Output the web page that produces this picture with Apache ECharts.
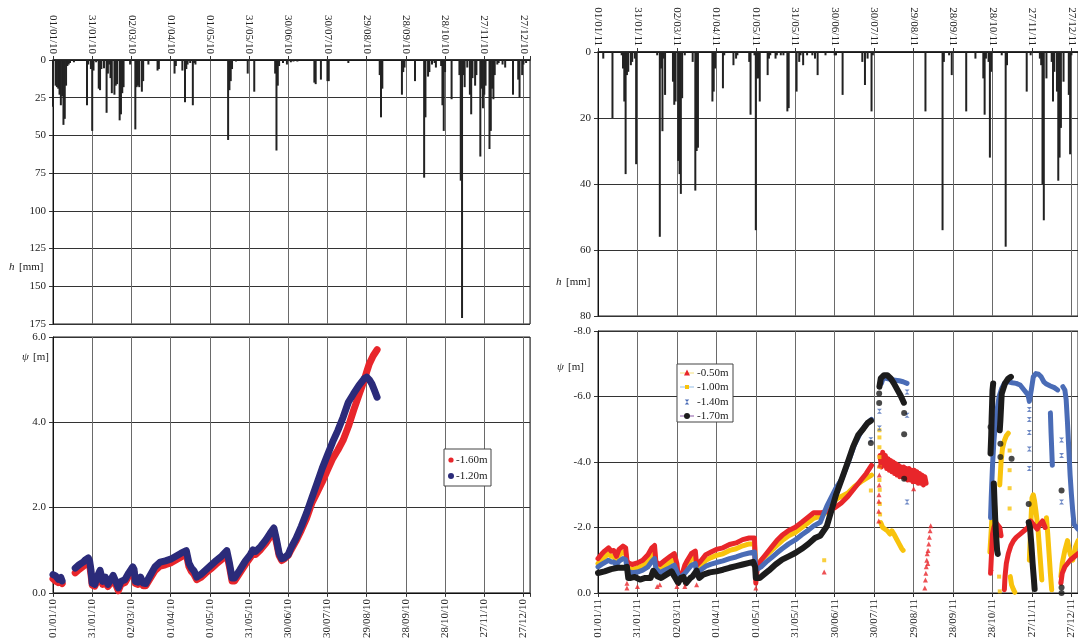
<!DOCTYPE html>
<html><head><meta charset="utf-8">
<script src="https://cdn.jsdelivr.net/npm/echarts@6/dist/echarts.min.js"></script>
<style>html,body{margin:0;padding:0;background:#fff}#c{width:1078px;height:641px}</style>
</head><body><div id="c"></div>
<script>
// ---------- tick labels ----------
const dates2010 = ['01/01/10','31/01/10','02/03/10','01/04/10','01/05/10','31/05/10','30/06/10','30/07/10','29/08/10','28/09/10','28/10/10','27/11/10','27/12/10'];
const dates2011 = ['01/01/11','31/01/11','02/03/11','01/04/11','01/05/11','31/05/11','30/06/11','30/07/11','29/08/11','28/09/11','28/10/11','27/11/11','27/12/11'];

// ---------- daily rainfall h [mm]: [day of year, mm] ----------
const rain2010 = [[0,31],[2,17],[3,18],[4,19],[5,23],[6,30],[7,24],[8,43],[9,39],[10,17],[11,4],[12,3],[13,2],[16,1.5],[26,30],[27,3],[29,6],[30,47],[31,7],[33,1.5],[35,19],[36,20],[37,6],[39,5.5],[41,35],[42,9],[43,3],[44,12],[45,22],[47,23],[48,17],[49,16],[51,40],[52,36],[53,22],[54,18],[59,3],[63,46],[64,18],[65,17],[66,18],[68,21],[69,14],[73,3],[80,7],[81,6],[93,9],[94,4],[99,7],[101,28],[102,6],[103,3],[105,2],[107,30],[108,2],[109,3],[134,53],[135,20],[136,14],[137,6],[140,1],[149,9],[154,21],[170,9],[171,60],[172,17],[173,4],[176,2],[179,3],[182,1.5],[184,1],[187,1],[200,15],[201,16],[205,13],[210,14],[211,14],[226,2],[250,10],[251,38],[252,19],[267,23],[268,8],[269,5],[277,14],[284,78],[285,38],[287,11],[288,8],[290,3],[292,2],[293,5],[297,4],[298,30],[299,47],[300,8],[305,26],[311,10],[312,80],[313,171],[314,10],[315,18],[317,5],[319,23],[320,36],[321,12],[323,17],[324,10],[327,64],[328,19],[329,32],[330,23],[331,17],[334,59],[335,47],[336,19],[337,26],[338,10],[340,3],[341,2],[344,3],[346,5],[352,23],[356,13],[357,25],[359,10],[360,3],[362,2]];
const rain2011 = [[4,2],[11,20],[18,1],[19,5],[20,15],[21,37],[22,7],[23,6],[25,4],[26,3],[28,2],[29,34],[45,1],[47,56],[48,5],[49,24],[50,2],[51,13],[57,9],[58,16],[59,15],[61,33],[62,37],[63,43],[64,14],[66,1],[72,3],[74,42],[75,30],[76,29],[87,15],[88,12],[89,5],[95,11],[96,1],[103,4],[105,2],[106,1],[115,3],[116,19],[119,1],[120,54],[121,8],[122,8],[123,15],[129,7],[130,2],[131,1],[135,2],[136,1],[139,1],[141,1],[144,18],[145,17],[151,12],[153,3],[154,1],[156,4],[159,1],[163,1],[165,2],[167,7],[173,1],[180,1],[181,1],[186,13],[201,3],[203,10],[205,2],[208,18],[209,1],[249,18],[262,54],[263,3],[267,1],[269,7],[280,18],[287,2],[293,8],[294,19],[295,2],[297,3],[298,32],[299,6],[307,1],[310,59],[311,4],[326,12],[329,1],[336,2],[337,4],[338,40],[339,51],[341,8],[345,3],[346,15],[347,6],[349,12],[350,39],[351,32],[352,23],[354,9],[358,13],[359,31],[360,1]];

// ---------- suction psi 2010 [m] (null = gap) ----------
const psi2010_160 = [[0,0.33],[2,0.28],[4,0.24],[6,0.25],[7,0.22],null,[17,0.47],[20,0.55],[23,0.62],[25,0.68],[27,0.73],[28,0.66],[29,0.45],[30,0.18],[32,0.16],[34,0.3],[36,0.45],[38,0.2],[40,0.28],[42,0.15],[44,0.22],[46,0.33],[48,0.2],[50,0.05],[52,0.2],[55,0.24],[58,0.4],[61,0.53],[62,0.48],[63,0.22],[65,0.2],[67,0.3],[69,0.17],[71,0.17],[74,0.32],[78,0.52],[82,0.63],[86,0.66],[90,0.7],[94,0.77],[98,0.84],[102,0.91],[104,0.62],[106,0.5],[108,0.43],[110,0.31],[113,0.36],[117,0.47],[121,0.57],[125,0.68],[129,0.78],[133,0.9],[135,0.62],[137,0.28],[139,0.28],[143,0.47],[147,0.66],[151,0.83],[153,0.94],[155,0.9],[159,1.02],[163,1.17],[166,1.31],[169,1.44],[171,1.18],[173,0.88],[175,0.76],[177,0.8],[180,0.88],[182,1.0],[186,1.22],[190,1.47],[194,1.75],[198,2.1],[202,2.35],[206,2.6],[210,2.88],[214,3.15],[218,3.35],[222,3.58],[226,3.9],[230,4.28],[234,4.63],[238,4.98],[240,5.18],[242,5.37],[245,5.56],[248,5.7]];
const psi2010_120 = [[0,0.43],[2,0.4],[4,0.32],[6,0.36],[7,0.28],null,[17,0.58],[20,0.66],[23,0.72],[25,0.78],[27,0.82],[28,0.75],[29,0.55],[30,0.23],[32,0.2],[34,0.39],[36,0.53],[38,0.27],[40,0.37],[42,0.2],[44,0.3],[46,0.41],[48,0.27],[50,0.12],[52,0.27],[55,0.31],[58,0.47],[61,0.61],[62,0.55],[63,0.27],[65,0.25],[67,0.37],[69,0.23],[71,0.22],[74,0.39],[78,0.61],[82,0.72],[86,0.75],[90,0.79],[94,0.86],[98,0.93],[102,0.99],[104,0.7],[106,0.58],[108,0.51],[110,0.37],[113,0.43],[117,0.54],[121,0.65],[125,0.76],[129,0.86],[133,0.99],[135,0.7],[137,0.35],[139,0.35],[143,0.54],[147,0.74],[151,0.9],[153,1.01],[155,0.97],[159,1.09],[163,1.25],[166,1.39],[169,1.52],[171,1.25],[173,0.93],[175,0.8],[177,0.82],[180,0.9],[182,1.05],[186,1.28],[190,1.56],[194,1.87],[198,2.22],[202,2.57],[206,2.92],[210,3.23],[214,3.54],[218,3.81],[222,4.12],[226,4.47],[230,4.67],[234,4.86],[238,5.02],[240,5.06],[242,5.0],[244,4.9],[246,4.75],[248,4.59]];

// ---------- suction psi 2011 [m] bands (null = gap) ----------
const psi2011_050 = [[0,-1.05],[3,-1.2],[5,-1.28],[8,-1.38],[10,-1.28],[12,-1.3],[14,-1.12],[16,-1.33],[19,-1.43],[21,-1.38],[22,-1.0],[23,-0.92],[26,-0.87],[30,-0.92],[34,-1.0],[38,-1.17],[41,-1.38],[43,-1.45],[44,-0.95],[47,-0.87],[51,-1.0],[55,-1.12],[58,-1.2],[60,-0.9],[61,-0.5],[63,-0.45],[66,-0.85],[68,-1.0],[71,-1.2],[74,-1.28],[75,-0.85],[78,-0.97],[82,-1.17],[86,-1.25],[90,-1.33],[95,-1.38],[100,-1.48],[105,-1.53],[110,-1.63],[115,-1.68],[119,-1.68],[120,-0.3],[121,-0.71],[124,-1.0],[128,-1.2],[132,-1.4],[136,-1.6],[140,-1.76],[145,-1.91],[150,-2.01],[155,-2.16],[160,-2.32],[164,-2.45],[170,-2.45],[175,-2.5],[180,-2.6],[185,-2.75],[190,-2.95],[195,-3.2],[200,-3.45],[204,-3.65],[208,-3.9],null,
 [214.5,-4.2],[215.5,-3.85],[216.5,-4.3],[217.5,-3.9],[218.5,-4.2],[219.5,-3.8],[220.5,-4.1],[221.5,-3.75],[222.5,-4.05],[223.5,-3.7],[224.5,-4.0],[225.5,-3.65],[226.5,-3.95],[227.5,-3.6],[228.5,-3.9],[229.5,-3.55],[230.5,-3.85],[231.5,-3.55],[232.5,-3.85],[233.5,-3.5],[234.5,-3.8],[235.5,-3.45],[236.5,-3.8],[237.5,-3.45],[238.5,-3.75],[239.5,-3.4],[240.5,-3.75],[241.5,-3.4],[242.5,-3.7],[243.5,-3.35],[244.5,-3.65],[245.5,-3.35],[246.5,-3.6],[247.5,-3.3],[248.5,-3.55],[249.5,-3.35],null,
 [298.5,-0.6],[299,-1.0],[299.5,-1.4],[300,-1.8],[301,-2.0],[302.5,-2.15],[304,-2.2],[305.5,-2.0],[306.5,-1.75],null,
 [309,-0.1],[309.5,-0.5],[310.5,-0.9],[312,-1.2],[314,-1.45],[316,-1.6],[318,-1.7],[321,-1.8],[324,-1.9],[327,-2.0],[329,-2.2],[330,-2.15],[332,-2.05],[334,-1.95],[336,-2.1],[338,-2.2],[340,-2.0],null,
 [352,-0.3],[353,-0.6],[355,-0.8],[357,-0.9],[359,-1.0],[362,-1.1],[365,-1.2]];
const psi2011_100 = [[0,-0.9],[3,-1.03],[5,-1.1],[8,-1.2],[10,-1.12],[12,-1.12],[14,-0.97],[16,-1.15],[19,-1.25],[21,-1.2],[22,-0.9],[23,-0.75],[26,-0.72],[30,-0.76],[34,-0.84],[38,-1.0],[41,-1.2],[43,-1.27],[44,-0.8],[47,-0.72],[51,-0.84],[55,-0.95],[58,-1.03],[60,-0.75],[61,-0.6],[63,-0.55],[66,-0.72],[68,-0.84],[71,-1.03],[74,-1.1],[75,-0.72],[78,-0.82],[82,-1.0],[86,-1.08],[90,-1.15],[95,-1.2],[100,-1.3],[105,-1.35],[110,-1.44],[115,-1.5],[119,-1.5],[120,-0.8],[121,-0.85],[124,-1.0],[128,-1.15],[132,-1.3],[136,-1.45],[140,-1.6],[145,-1.75],[150,-1.85],[155,-2.0],[160,-2.15],[164,-2.28],[169,-2.35],[174,-2.47],[181,-2.86],[185,-2.95],[190,-3.05],[195,-3.25],[200,-3.4],[204,-3.5],[208,-3.6],null,
 [215,-2.15],[216.5,-2.0],[218,-2.05],[220,-1.9],[222,-1.8],[223.5,-1.9],[225,-1.8],[227,-1.65],[229,-1.5],[231,-1.35],[232,-1.3],null,
 [298,-1.25],[299,-1.9],[300,-2.6],[300.8,-3.2],[301.5,-2.7],[302.5,-2.1],[303.5,-1.7],null,
 [305.5,-3.3],[306.5,-4.0],[307.5,-4.4],[309,-4.65],[310.5,-4.8],[312,-4.88],null,
 [313.5,-0.5],[314.5,-0.25],[316,-0.1],[317,-0.02],null,
 [328,-1.0],[329,-2.0],[330,-2.9],[331,-3.0],[332,-2.8],[333,-2.5],[334.5,-2.0],[336,-1.2],[337.5,-0.4],null,
 [341,-2.3],[342,-1.8],[343,-1.2],[344,-0.6],[345,-0.1],null,
 [352,-0.5],[353,-0.9],[355,-1.3],[357,-1.6],[359,-1.2],[361,-1.0],[363,-1.4],[365,-1.6]];
const psi2011_140 = [[0,-0.8],[3,-0.88],[5,-0.93],[8,-1.0],[10,-0.95],[12,-0.95],[14,-0.85],[16,-0.97],[19,-1.05],[21,-1.02],[22,-0.8],[23,-0.65],[26,-0.62],[30,-0.64],[34,-0.7],[38,-0.8],[41,-0.97],[43,-1.05],[44,-0.75],[47,-0.62],[51,-0.7],[55,-0.78],[58,-0.85],[60,-0.65],[61,-0.52],[63,-0.5],[66,-0.6],[68,-0.7],[71,-0.84],[74,-0.9],[75,-0.62],[78,-0.7],[82,-0.82],[86,-0.88],[90,-0.93],[95,-0.98],[100,-1.05],[105,-1.1],[110,-1.17],[115,-1.22],[119,-1.25],[120,-0.7],[121,-0.68],[124,-0.8],[128,-0.95],[132,-1.08],[136,-1.22],[140,-1.35],[145,-1.5],[150,-1.62],[155,-1.78],[160,-1.92],[164,-2.05],[169,-2.16],[174,-2.65],[181,-3.21],[185,-3.45],[190,-3.96],[195,-4.52],[200,-4.93],[204,-5.15],[208,-5.3],null,
 [215.5,-6.4],[217,-6.58],[220,-6.55],[223,-6.52],[226,-6.5],[229,-6.48],[232,-6.45],[235,-6.4],null,
 [298.5,-2.3],[299,-2.9],[299.5,-3.4],[300,-3.9],[301,-4.6],[302,-5.1],[303.5,-5.6],[305,-6.0],[307,-6.25],[309,-6.4],[312,-6.45],[315,-6.42],[318,-6.4],[321,-6.35],[324,-6.2],[327,-6.05],[328,-5.85],[329.5,-6.2],[331,-6.6],[333,-6.7],[335,-6.68],[337,-6.6],[339,-6.45],[341,-6.38],[344,-6.32],[347,-6.27],[349.5,-6.2],null,
 [344,-5.5],[344.5,-4.9],[345,-4.4],[345.5,-3.9],null,
 [353.5,-6.3],[355,-6.2],[356,-5.9],[357,-5.2],[358,-4.4],[359,-3.6],[360,-3.0],[361,-2.5],[362,-2.1],[365,-1.95]];
const psi2011_170 = [[0,-0.61],[5,-0.66],[10,-0.73],[15,-0.77],[20,-0.77],[22,-0.8],[23,-0.46],[25,-0.46],[28,-0.49],[32,-0.41],[36,-0.46],[40,-0.46],[42,-0.68],[43,-0.72],[45,-0.51],[48,-0.46],[52,-0.56],[56,-0.66],[58,-0.51],[61,-0.31],[63,-0.46],[65,-0.49],[67,-0.3],[68,-0.25],[70,-0.45],[72,-0.51],[75,-0.68],[77,-0.46],[80,-0.56],[85,-0.63],[90,-0.66],[95,-0.71],[100,-0.77],[105,-0.82],[110,-0.87],[115,-0.92],[118,-0.95],[119.5,-0.8],[120,-0.46],[123,-0.46],[126,-0.56],[130,-0.69],[135,-0.87],[140,-1.02],[145,-1.12],[150,-1.22],[155,-1.35],[160,-1.5],[165,-1.68],[169,-1.75],[174,-2.04],[181,-3.0],[186,-3.55],[190,-4.0],[194,-4.47],[198,-4.83],[202,-5.03],[205,-5.19],[207.5,-5.26],null,
 [214,-6.3],[215,-6.55],[217.5,-6.65],[220,-6.65],[222.6,-6.55],[225,-6.4],[227.6,-6.21],[230,-6.04],[232.6,-5.81],null,
 [298.5,-4.26],[299,-4.8],[299.3,-5.3],[299.7,-5.8],[300,-6.2],[300.5,-6.4],null,
 [301,-3.34],[301.5,-2.8],[302,-2.3],[302.5,-1.9],[303,-1.6],[303.5,-1.3],[304,-1.19],null,
 [305.5,-4.97],[306,-5.28],[307,-6.09],[309.5,-6.4],[312,-6.55],[314,-6.6],null,
 [327.5,-2.16],[328.5,-2.0],[329.5,-1.5],[330.5,-0.9],[331.5,-0.4],[332,-0.12]];

// ---------- isolated readings 2011 ----------
const dots2011_050 = [[22,-0.15],[22,-0.3],[30,-0.2],[45,-0.2],[47,-0.25],[60,-0.2],[66,-0.2],[75,-0.25],[120,-0.15],[172,-0.64],[213.5,-2.2],[213.5,-2.5],[213.6,-2.8],[213.7,-3.0],[213.8,-3.3],[213.9,-3.6],[214,-3.9],[240,-3.18],[248.5,-0.15],[249,-0.4],[249.3,-0.6],[249.6,-0.8],[250,-1.0],[250.3,-1.2],[250.8,-0.9],[251,-1.3],[251.5,-1.5],[252,-1.7],[252.5,-1.9],[253,-2.05],[352,-0.4],[299,-0.75]];
const dots2011_100 = [[172,-1.0],[207.5,-3.13],[214,-4.97],[214,-4.75],[214,-4.45],[214,-4.15],[214,-3.85],[214,-3.45],[214.2,-3.15],[214.3,-2.72],[214.5,-2.4],[305,-0.5],[305.5,-0.05],[313,-4.35],[313,-3.75],[313,-3.2],[313,-2.58]];
const dots2011_140 = [[207.5,-4.68],[214,-5.55],[214,-5.04],[235,-6.14],[235,-5.43],[235,-2.78],[328,-5.6],[328,-5.3],[328,-4.9],[328,-4.4],[328,-3.8],[352.5,-4.67],[352.5,-4.2],[352.5,-2.78]];
const dots2011_170 = [[207.5,-4.58],[213.8,-5.8],[213.8,-6.09],[232.8,-5.5],[232.8,-4.85],[232.8,-3.49],[298.5,-5.07],[306,-4.56],[306,-4.15],[314.5,-4.1],[327.5,-2.72],[352.5,-3.13],[352.5,-0.17],[352.5,0]];

// ---------- chart ----------
const F = '"Liberation Serif","Times New Roman",serif';
const C = { r10:'#e8262b', b10:'#2b2b7a', r:'#e8262a', y:'#f8c30c', b:'#4a6cb6', k:'#1c1c1c' };
const gaps = a => a.map(p => p === null ? ['-','-'] : p);

function xAx(gi, pos, labels){
  return { type:'value', gridIndex:gi, min:0, max:365, interval:30, position:pos,
    axisLine:{show:true, onZero:false, lineStyle:{color:'#111', width: pos==='top'?1.6:1}},
    axisTick:{show:true, length:4, lineStyle:{color:'#333'}},
    axisLabel:{rotate:90, margin:6, fontFamily:F, fontSize:11, color:'#222',
      formatter: v => (v % 30 === 0 && labels[v/30]) ? labels[v/30] : ''},
    splitLine:{show:true, lineStyle:{color:'#6a6a6a', width:1}} };
}
function yAx(gi, min, max, interval, inverse, dec){
  return { type:'value', gridIndex:gi, min:min, max:max, interval:interval, inverse:inverse,
    axisLine:{show:true, onZero:false, lineStyle:{color:'#111'}},
    axisTick:{show:true, length:4, lineStyle:{color:'#333'}},
    axisLabel:{margin:7, fontFamily:F, fontSize:11, color:'#222',
      formatter: v => dec ? v.toFixed(1) : String(v)},
    splitLine:{show:true, lineStyle:{color:'#333', width:1}} };
}
function band(name, data, color, width, xi, yi){
  return { name, type:'line', xAxisIndex:xi, yAxisIndex:yi, data:gaps(data), showSymbol:false,
    connectNulls:false, lineStyle:{color, width, join:'round', cap:'round'}, itemStyle:{color}, z:3, silent:true };
}
function dots(name, data, color, symbol, size, xi, yi){
  return { name, type:'scatter', xAxisIndex:xi, yAxisIndex:yi, data, symbol, symbolSize:size,
    itemStyle:{color}, z:4, silent:true };
}
const hourglass = 'path://M0,0L10,0L5,5L10,10L0,10L5,5Z';

const chart = echarts.init(document.getElementById('c'), null, {renderer:'canvas'});
const txt = (x,y,t,italic,size) => ({type:'text', x:x, y:y, z:200, style:{text:t, fill:'#222',
  font:(italic?'italic ':'') + (size||11) + 'px ' + F, verticalAlign:'middle'}});

chart.setOption({
  animation:false,
  backgroundColor:'#fff',
  grid:[
    {left:53, top:60, width:477, height:264, show:true, borderColor:'#222', borderWidth:1, backgroundColor:'transparent'},
    {left:53, top:337, width:477, height:256, show:true, borderColor:'#222', borderWidth:1, backgroundColor:'transparent'},
    {left:598, top:52, width:482, height:264, show:true, borderColor:'#222', borderWidth:1, backgroundColor:'transparent'},
    {left:598, top:331, width:482, height:262, show:true, borderColor:'#222', borderWidth:1, backgroundColor:'transparent'}
  ],
  xAxis:[ xAx(0,'top',dates2010), xAx(1,'bottom',dates2010), xAx(2,'top',dates2011), xAx(3,'bottom',dates2011) ],
  yAxis:[ yAx(0,0,175,25,true,false), yAx(1,0,6,2,false,true), yAx(2,0,80,20,true,false), yAx(3,-8,0,2,true,true) ],
  series:[
    {name:'h2010', type:'bar', xAxisIndex:0, yAxisIndex:0, data:rain2010, barWidth:2, itemStyle:{color:'#222'}, silent:true},
    {name:'h2011', type:'bar', xAxisIndex:2, yAxisIndex:2, data:rain2011, barWidth:2, itemStyle:{color:'#222'}, silent:true},
    band('-1.60m', psi2010_160, C.r10, 7, 1, 1),
    band('-1.20m', psi2010_120, C.b10, 7, 1, 1),
    band('-1.00m', psi2011_100, C.y, 5, 3, 3),
    band('-0.50m', psi2011_050, C.r, 5, 3, 3),
    band('-1.40m', psi2011_140, C.b, 5, 3, 3),
    band('-1.70m', psi2011_170, C.k, 6, 3, 3),
    dots('-1.00m', dots2011_100, C.y, 'rect', 4, 3, 3),
    dots('-0.50m', dots2011_050, C.r, 'triangle', 5, 3, 3),
    dots('-1.40m', dots2011_140, C.b, hourglass, 5, 3, 3),
    dots('-1.70m', dots2011_170, C.k, 'circle', 6, 3, 3)
  ],
  graphic:[
    // axis titles
    txt(9,267,'h',true), txt(19,267,'[mm]',false),
    txt(556,282,'h',true), txt(566,282,'[mm]',false),
    txt(22,357,'\u03c8',true), txt(33,357,'[m]',false),
    txt(557,367,'\u03c8',true), txt(568,367,'[m]',false),
    // legend 2010
    {type:'rect', z:150, shape:{x:444,y:449,width:47,height:37}, style:{fill:'#fff', stroke:'#444', lineWidth:1}},
    {type:'circle', z:151, shape:{cx:451,cy:460,r:2.6}, style:{fill:C.r10}},
    {type:'circle', z:151, shape:{cx:451,cy:476,r:3}, style:{fill:C.b10}},
    txt(456,460,'-1.60m',false), txt(456,476,'-1.20m',false),
    // legend 2011
    {type:'rect', z:150, shape:{x:677,y:364,width:56,height:58}, style:{fill:'#fff', stroke:'#444', lineWidth:1}},
    {type:'line', z:151, shape:{x1:680,y1:373,x2:694,y2:373}, style:{stroke:'#f3e07a', lineWidth:1}},
    {type:'polygon', z:152, shape:{points:[[687,369.5],[684,375.5],[690,375.5]]}, style:{fill:C.r}},
    {type:'line', z:151, shape:{x1:680,y1:387,x2:694,y2:387}, style:{stroke:'#93bde6', lineWidth:1}},
    {type:'rect', z:152, shape:{x:685,y:385,width:4,height:4}, style:{fill:C.y}},
    {type:'polygon', z:152, shape:{points:[[684.8,399.5],[689.2,399.5],[687,402],[689.2,404.5],[684.8,404.5],[687,402]]}, style:{fill:C.b}},
    {type:'line', z:151, shape:{x1:680,y1:416,x2:694,y2:416}, style:{stroke:'#8a58a6', lineWidth:1}},
    {type:'circle', z:152, shape:{cx:687,cy:416,r:3}, style:{fill:C.k}},
    txt(697,373,'-0.50m',false), txt(697,387,'-1.00m',false), txt(697,402,'-1.40m',false), txt(697,416,'-1.70m',false)
  ]
});
</script>
</body></html>
